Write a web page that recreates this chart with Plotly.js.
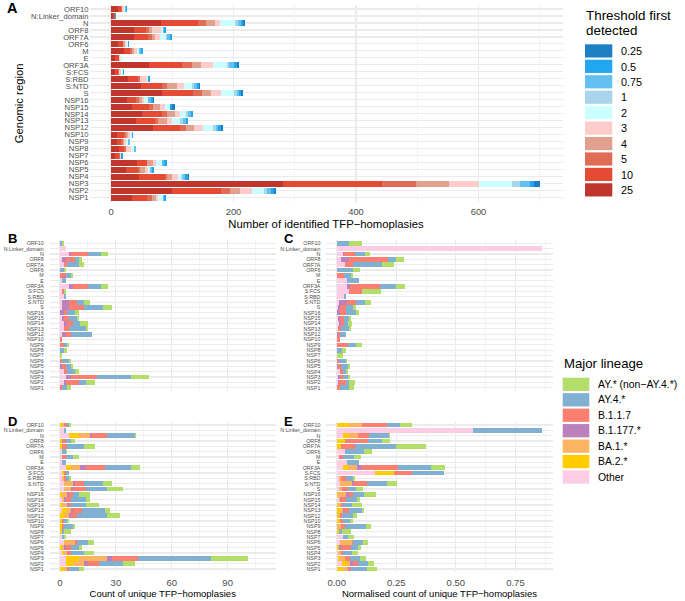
<!DOCTYPE html>
<html>
<head>
<meta charset="utf-8">
<script src="https://cdn.plot.ly/plotly-3.0.1.min.js"></script>
<style>html,body{margin:0;padding:0;background:#fff;}#chart{width:685px;height:601px;}</style>
</head>
<body>
<div id="chart"></div>
<script>
// Genomic regions, listed top to bottom
const regions = ['ORF10','N:Linker_domain','N','ORF8','ORF7A','ORF6','M','E','ORF3A','S:FCS','S:RBD','S:NTD','S','NSP16','NSP15','NSP14','NSP13','NSP12','NSP10','NSP9','NSP8','NSP7','NSP6','NSP5','NSP4','NSP3','NSP2','NSP1'];

// Panel A: number of TFP-homoplasies by threshold first detected
const thresholdLabels = ['25','10','5','4','3','2','1','0.75','0.5','0.25'];
const thresholdColors = ['#C0362C','#E44A34','#E06C56','#E0A28E','#FFCCCC','#CCFFFF','#A8D4EC','#64C0F0','#21A6F0','#1E80C4'];
const thr25  = [12,4,81,38,38,11,22,6,62,6,28,49,84,26,35,51,41,68,9,9,13,6,42,25,46,280,100,35];
const thr10  = [4,2,61,19,22,9,9,7,54,5,16,35,50,15,27,33,31,44,12,7,8,7,17,19,42,162,79,24];
const thr5   = [2,0,13,5,7,0,3,0,16,2,4,8,14,4,7,8,5,11,3,3,4,2,0,4,4,56,15,8];
const thr4   = [0,0,14,5,5,3,4,0,15,0,0,16,15,5,11,12,15,12,3,2,0,0,10,8,8,54,17,6];
const thr3   = [3,0,9,14,8,2,4,2,20,3,11,11,17,4,8,8,7,16,4,3,8,2,4,4,10,48,19,4];
const thr2   = [2,1,25,4,9,2,4,3,22,3,2,13,21,7,8,10,14,16,3,4,4,0,11,4,4,55,20,8];
const thr1   = [0,0,5,0,3,0,0,0,4,0,0,4,4,0,0,4,4,4,0,0,0,0,0,0,3,13,5,0];
const thr075 = [1,0,5,2,4,1,3,0,7,0,0,4,4,4,0,5,5,4,0,3,3,0,3,3,4,16,7,2];
const thr05  = [2,1,3,3,3,2,3,0,6,3,3,3,3,3,4,3,4,5,2,0,0,2,4,4,4,6,4,3];
const thr025 = [0,0,2,0,0,0,0,0,3,0,0,3,3,3,4,0,0,3,0,0,0,0,0,0,3,11,4,0];
const thresholdSeries = [thr25,thr10,thr5,thr4,thr3,thr2,thr1,thr075,thr05,thr025];
const thresholdLegendOrder = ['0.25','0.5','0.75','1','2','3','4','5','10','25'];

// Lineages (stack order left to right)
const lineageLabels = ['Other','BA.2.*','BA.1.*','B.1.177.*','B.1.1.7','AY.4.*','AY.* (non\u2212AY.4.*)'];
const lineageColors = ['#FCCDE5','#FFCC00','#FDB462','#BC80BD','#FB8072','#80B1D3','#B3DE69'];
const lineageLegendOrder = ['AY.* (non\u2212AY.4.*)','AY.4.*','B.1.1.7','B.1.177.*','BA.1.*','BA.2.*','Other'];

// Panel B: count (first group)
const bOther = [0,3,5,1,2,0,0,1,5,1,2,1,1,0,1,2,2,1,0,0,0,0,0,0,2,3,2,0];
const bBA2   = [0,0,0,0,0,0,0,0,0,0,0,0,0,0,0,0,0,0,0,0,0,0,0,0,0,0,0,0];
const bBA1   = [0,0,0,0,0,0,0,0,0,0,0,0,0,0,0,0,0,0,0,0,0,0,0,0,0,0,0,0];
const bB1177 = [0,0,1,2,0,0,0,0,2,0,0,4,4,2,1,2,0,2,0,0,0,0,0,1,0,3,1,0];
const bB117  = [0,0,9,5,2,0,3,0,8,1,0,4,8,2,3,3,3,3,1,2,0,0,1,2,2,14,7,1];
const bAY4   = [1,0,7,2,6,2,3,2,7,0,1,4,10,4,4,4,9,11,0,2,2,0,4,3,4,18,4,3];
const bAYn   = [1,0,4,2,3,1,1,0,4,1,0,3,5,2,1,4,1,0,0,1,2,1,1,1,2,10,5,2];

// Panel C: normalised count (first group)
const cOther = [0,0.861,0.025,0.018,0.035,0,0,0.042,0.042,0.053,0.031,0.010,0.004,0,0.006,0.008,0.007,0.003,0,0,0,0,0,0,0.015,0.006,0.007,0];
const cBA2   = [0,0,0,0,0,0,0,0,0,0,0,0,0,0,0,0,0,0,0,0,0,0,0,0,0,0,0,0];
const cBA1   = [0,0,0,0,0,0,0,0,0,0,0,0,0,0,0,0,0,0,0,0,0,0,0,0,0,0,0,0];
const cB1177 = [0,0,0.004,0.032,0,0,0,0,0.014,0,0,0.034,0.011,0.015,0.007,0.010,0,0.004,0,0,0,0,0,0.006,0,0.006,0.004,0];
const cB117  = [0,0,0.049,0.164,0.032,0,0.031,0,0.127,0.053,0,0.035,0.024,0.022,0.017,0.014,0.011,0.007,0.015,0.046,0,0,0.010,0.014,0.010,0.014,0.028,0.014];
const cAY4   = [0.052,0,0.040,0.034,0.123,0.067,0.028,0.052,0.064,0,0.010,0.040,0.029,0.043,0.022,0.017,0.034,0.025,0,0.035,0.022,0,0.027,0.028,0.015,0.020,0.014,0.038];
const cAYn   = [0.053,0,0.020,0.035,0.050,0.031,0.008,0,0.038,0.078,0,0.025,0.015,0.014,0.007,0.015,0.007,0,0,0.025,0.018,0.025,0.007,0.007,0.008,0.010,0.022,0.021];

// Panel D: count (second group)
const dOther = [0,2,5,0,0,1,1,1,3,1,1,2,2,0,1,0,1,0,0,0,0,1,2,0,1,3,3,0];
const dBA2   = [1,0,5,1,1,0,0,0,3,1,0,0,0,1,0,1,3,2,1,1,1,0,0,1,1,7,4,2];
const dBA1   = [1,0,6,0,0,0,0,0,5,0,1,5,4,3,1,3,2,3,0,0,0,0,6,1,2,15,6,2];
const dB1177 = [0,0,1,0,0,0,0,0,3,0,0,1,1,1,1,1,1,1,0,0,0,0,0,1,0,3,2,0];
const dB117  = [2,0,8,2,3,0,2,0,10,1,1,5,7,2,3,1,5,3,1,1,0,0,1,3,2,14,6,1];
const dAY4   = [1,1,15,3,9,2,4,2,14,2,2,10,11,3,8,8,12,16,2,5,1,1,6,4,7,39,13,5];
const dAYn   = [1,0,1,2,6,1,3,0,5,0,1,5,9,6,2,7,3,7,1,1,4,1,3,2,5,20,6,3];

// Panel E: normalised count (second group)
const eOther = [0,0.574,0.028,0,0,0.035,0.010,0.042,0.027,0.161,0.010,0.014,0.008,0,0.008,0,0.003,0,0,0,0,0.025,0.014,0,0.007,0.006,0.022,0];
const eBA2   = [0.053,0,0.025,0.035,0.018,0,0,0,0.022,0.078,0,0,0,0.006,0,0.007,0.017,0.006,0.014,0,0.010,0,0,0.010,0,0.006,0.020,0.028];
const eBA1   = [0.053,0,0.036,0,0,0,0,0,0.038,0,0.010,0.052,0.014,0.034,0.006,0.010,0.006,0.006,0,0.018,0,0,0.049,0,0.010,0.021,0.015,0.021];
const eB1177 = [0,0,0,0,0,0,0,0,0.020,0,0,0.008,0,0.010,0.006,0.003,0.003,0.003,0,0,0,0,0,0.007,0,0,0.010,0.003];
const eB117  = [0.106,0,0.048,0.098,0.059,0,0.018,0,0.150,0.078,0.021,0.052,0.024,0.017,0.017,0.008,0.021,0.007,0.014,0.018,0,0,0.007,0.045,0.011,0.021,0.024,0.010];
const eAY4   = [0.053,0.287,0.083,0.059,0.172,0.081,0.045,0.052,0.140,0.132,0.028,0.084,0.036,0.049,0.050,0.038,0.056,0.046,0.028,0.088,0.013,0.024,0.042,0.028,0.035,0.045,0.041,0.067];
const eAYn   = [0.052,0,0.004,0.032,0.125,0.032,0.027,0,0.057,0,0.006,0.043,0.028,0.050,0.010,0.039,0.010,0.017,0.014,0.018,0.038,0.024,0.020,0.010,0.025,0.022,0.025,0.039];

const panelB = [bOther,bBA2,bBA1,bB1177,bB117,bAY4,bAYn];
const panelC = [cOther,cBA2,cBA1,cB1177,cB117,cAY4,cAYn];
const panelD = [dOther,dBA2,dBA1,dB1177,dB117,dAY4,dAYn];
const panelE = [eOther,eBA2,eBA1,eB1177,eB117,eAY4,eAYn];

// ---------- build ----------
const W = 685, H = 601;
const px = x => x / W;
const py = y => 1 - y / H;
const FONT = 'Liberation Sans, Arial, Helvetica, sans-serif';
const GRID = '#EBEBEB';
const TICKC = '#4D4D4D';

const traces = [];
thresholdSeries.forEach((s, i) => {
  traces.push({type:'bar', orientation:'h', x:s, y:regions, xaxis:'x', yaxis:'y',
    marker:{color:thresholdColors[i], line:{width:0}}, name:thresholdLabels[i], hoverinfo:'skip', showlegend:false});
});
[[panelB,'x2','y2'],[panelC,'x3','y3'],[panelD,'x4','y4'],[panelE,'x5','y5']].forEach(([p,xa,ya]) => {
  p.forEach((s, i) => {
    traces.push({type:'bar', orientation:'h', x:s, y:regions, xaxis:xa, yaxis:ya,
      marker:{color:lineageColors[i], line:{width:0}}, name:lineageLabels[i], hoverinfo:'skip', showlegend:false});
  });
});

function xAxis(l, r, range, dtick, minor, fs, show, anchor, title, tfs, fmt) {
  const a = {domain:[px(l), px(r)], range:range, anchor:anchor, tick0:0, dtick:dtick,
    showgrid:true, gridcolor:GRID, gridwidth:1.1, zeroline:false, showline:false, ticks:'',
    showticklabels:show, tickfont:{size:fs, color:TICKC, family:FONT}, ticklabelstandoff:3,
    minor:{tick0:0, dtick:minor, showgrid:true, gridcolor:GRID, gridwidth:0.55, ticks:''}};
  if (fmt) a.tickformat = fmt;
  if (title) a.title = {text:title, font:{size:tfs, color:'#000', family:FONT}, standoff:3};
  return a;
}
function yAxis(t, b, fs, anchor, standoff, title) {
  const a = {domain:[py(b), py(t)], type:'category', categoryorder:'array', categoryarray:regions,
    tickmode:'array', tickvals:regions, ticktext:regions,
    range:[regions.length - 0.4, -0.6], anchor:anchor, showgrid:true, gridcolor:GRID, gridwidth:1.1,
    zeroline:false, showline:false, ticks:'', tickfont:{size:fs, color:TICKC, family:FONT}, ticklabelstandoff:standoff};
  if (title) a.title = {text:title, font:{size:11.3, color:'#000', family:FONT}, standoff:5};
  return a;
}

const layout = {
  width:W, height:H, margin:{l:0,r:0,t:0,b:0,pad:0}, paper_bgcolor:'#fff', plot_bgcolor:'#fff',
  barmode:'stack', bargap:0.1, showlegend:false, font:{family:FONT, color:'#000'},
  xaxis: xAxis(89.5, 562.5, [-35.1, 737.1], 200, 100, 9.4, true, 'y', 'Number of identified TFP\u2212homoplasies', 11.3),
  yaxis: yAxis(4.8, 201.9, 7.6, 'x', 5.5, 'Genomic region'),
  xaxis2: xAxis(49.75, 275.7, [-5.5, 115.8], 30, 15, 9.5, false, 'y2'),
  yaxis2: yAxis(240.1, 390.9, 5.3, 'x2', 5),
  xaxis3: xAxis(326.4, 552.5, [-0.0432, 0.9056], 0.25, 0.125, 9.5, false, 'y3', null, null, '.2f'),
  yaxis3: yAxis(240.1, 390.9, 5.3, 'x3', 5),
  xaxis4: xAxis(49.75, 275.7, [-5.5, 115.8], 30, 15, 9.5, true, 'y4', 'Count of unique TFP\u2212homoplasies', 9.5),
  yaxis4: yAxis(421.8, 572.2, 5.3, 'x4', 5),
  xaxis5: xAxis(326.4, 552.5, [-0.0432, 0.9056], 0.25, 0.125, 9.5, true, 'y5', 'Normalised count of unique TFP\u2212homoplasies', 9.5, '.2f'),
  yaxis5: yAxis(421.8, 572.2, 5.3, 'x5', 5),
  shapes: [], annotations: []
};

// panel tags
[['A',4.5,8.5,14.5],['B',6,238,13],['C',281.5,238,13],['D',6,421,13],['E',281.5,421,13]].forEach(([t,x,y,s]) => {
  layout.annotations.push({text:'<b>'+t+'</b>', xref:'paper', yref:'paper', x:px(x), y:py(y),
    xanchor:'left', yanchor:'middle', showarrow:false, font:{size:s, color:'#000', family:FONT}});
});

// legend: threshold first detected
layout.annotations.push({text:'Threshold first', xref:'paper', yref:'paper', x:px(584), y:py(15.7), xanchor:'left', yanchor:'middle', showarrow:false, font:{size:13.4, color:'#000', family:FONT}});
layout.annotations.push({text:'detected', xref:'paper', yref:'paper', x:px(584), y:py(30.7), xanchor:'left', yanchor:'middle', showarrow:false, font:{size:13.4, color:'#000', family:FONT}});
thresholdLegendOrder.forEach((lab, k) => {
  const col = thresholdColors[thresholdLabels.indexOf(lab)];
  const top = 44.3 + k * 15.44;
  layout.shapes.push({type:'rect', xref:'paper', yref:'paper', x0:px(585), x1:px(612.3), y0:py(top), y1:py(top + 13.2), fillcolor:col, line:{width:0}});
  layout.annotations.push({text:lab, xref:'paper', yref:'paper', x:px(619), y:py(top + 6.8), xanchor:'left', yanchor:'middle', showarrow:false, font:{size:10.8, color:'#000', family:FONT}});
});

// legend: major lineage
layout.annotations.push({text:'Major lineage', xref:'paper', yref:'paper', x:px(561.5), y:py(363.3), xanchor:'left', yanchor:'middle', showarrow:false, font:{size:13.2, color:'#000', family:FONT}});
lineageLegendOrder.forEach((lab, k) => {
  const col = lineageColors[lineageLabels.indexOf(lab)];
  const top = 377.7 + k * 15.45;
  layout.shapes.push({type:'rect', xref:'paper', yref:'paper', x0:px(562.7), x1:px(589.3), y0:py(top), y1:py(top + 13.3), fillcolor:col, line:{width:0}});
  layout.annotations.push({text:lab, xref:'paper', yref:'paper', x:px(595.5), y:py(top + 6.8), xanchor:'left', yanchor:'middle', showarrow:false, font:{size:10.4, color:'#000', family:FONT}});
});

Plotly.newPlot('chart', traces, layout, {staticPlot:true, displayModeBar:false});
</script>
</body>
</html>
